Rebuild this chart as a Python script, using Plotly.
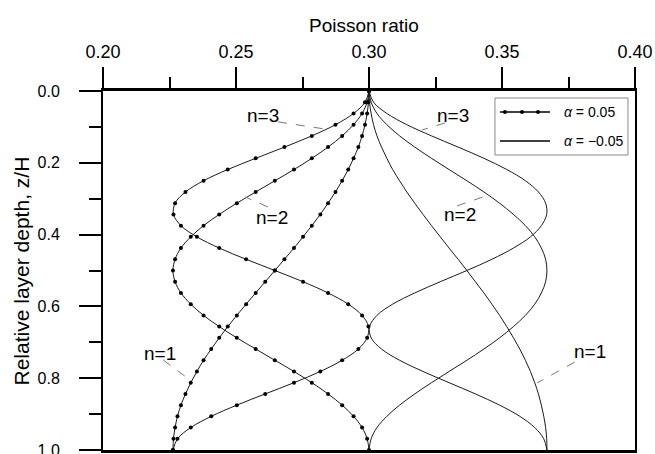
import plotly.graph_objects as go

# Relative depth z/H of the computed points
depth = [0.0, 0.03125, 0.0625, 0.09375, 0.125, 0.15625, 0.1875, 0.21875, 0.25,
         0.28125, 0.3125, 0.34375, 0.375, 0.40625, 0.4375, 0.46875, 0.5,
         0.53125, 0.5625, 0.59375, 0.625, 0.65625, 0.6875, 0.71875, 0.75,
         0.78125, 0.8125, 0.84375, 0.875, 0.90625, 0.9375, 0.96875, 1.0]

# Poisson ratio profiles, alpha = 0.05
nu_pos_n1 = [0.3000, 0.2998, 0.2993, 0.2985, 0.2974, 0.2960, 0.2942, 0.2922, 0.2899,
             0.2874, 0.2846, 0.2817, 0.2785, 0.2752, 0.2718, 0.2682, 0.2646, 0.2610,
             0.2574, 0.2538, 0.2503, 0.2469, 0.2437, 0.2407, 0.2378, 0.2353, 0.2330,
             0.2310, 0.2293, 0.2280, 0.2271, 0.2265, 0.2263]
nu_pos_n2 = [0.3000, 0.2993, 0.2974, 0.2942, 0.2899, 0.2846, 0.2785, 0.2718, 0.2646,
             0.2574, 0.2503, 0.2437, 0.2378, 0.2330, 0.2293, 0.2271, 0.2263, 0.2271,
             0.2293, 0.2330, 0.2378, 0.2437, 0.2503, 0.2574, 0.2646, 0.2718, 0.2785,
             0.2846, 0.2899, 0.2942, 0.2974, 0.2993, 0.3000]
nu_pos_n3 = [0.3000, 0.2985, 0.2942, 0.2874, 0.2785, 0.2682, 0.2574, 0.2469, 0.2378,
             0.2310, 0.2271, 0.2265, 0.2293, 0.2353, 0.2437, 0.2538, 0.2646, 0.2752,
             0.2846, 0.2922, 0.2974, 0.2998, 0.2993, 0.2960, 0.2899, 0.2817, 0.2718,
             0.2610, 0.2503, 0.2407, 0.2330, 0.2280, 0.2263]

# Poisson ratio profiles, alpha = -0.05
nu_neg_n1 = [0.3000, 0.3002, 0.3008, 0.3017, 0.3030, 0.3047, 0.3067, 0.3089, 0.3115,
             0.3142, 0.3172, 0.3203, 0.3235, 0.3268, 0.3301, 0.3335, 0.3368, 0.3400,
             0.3432, 0.3462, 0.3491, 0.3518, 0.3543, 0.3567, 0.3588, 0.3607, 0.3623,
             0.3637, 0.3648, 0.3657, 0.3664, 0.3668, 0.3669]
nu_neg_n2 = [0.3000, 0.3008, 0.3030, 0.3067, 0.3115, 0.3172, 0.3235, 0.3301, 0.3368,
             0.3432, 0.3491, 0.3543, 0.3588, 0.3623, 0.3648, 0.3664, 0.3669, 0.3664,
             0.3648, 0.3623, 0.3588, 0.3543, 0.3491, 0.3432, 0.3368, 0.3301, 0.3235,
             0.3172, 0.3115, 0.3067, 0.3030, 0.3008, 0.3000]
nu_neg_n3 = [0.3000, 0.3017, 0.3067, 0.3142, 0.3235, 0.3335, 0.3432, 0.3518, 0.3588,
             0.3637, 0.3664, 0.3668, 0.3648, 0.3607, 0.3543, 0.3462, 0.3368, 0.3268,
             0.3172, 0.3089, 0.3030, 0.3002, 0.3008, 0.3047, 0.3115, 0.3203, 0.3301,
             0.3400, 0.3491, 0.3567, 0.3623, 0.3657, 0.3669]

x_ticks = [0.20, 0.25, 0.30, 0.35, 0.40]
x_tick_labels = ["0.20", "0.25", "0.30", "0.35", "0.40"]
y_ticks = [0.0, 0.2, 0.4, 0.6, 0.8, 1.0]
y_tick_labels = ["0.0", "0.2", "0.4", "0.6", "0.8", "1.0"]

# Curve labels: text, label position, leader line (from, to)
curve_labels = [
    ("n=3", (0.2602, 0.067), (0.2658, 0.086), (0.2835, 0.106)),
    ("n=2", (0.2635, 0.351), (0.2620, 0.323), (0.2534, 0.295)),
    ("n=1", (0.2214, 0.730), (0.2226, 0.749), (0.2327, 0.805)),
    ("n=3", (0.3316, 0.067), (0.3286, 0.089), (0.3199, 0.1086)),
    ("n=2", (0.3342, 0.345), (0.3331, 0.320), (0.3429, 0.295)),
    ("n=1", (0.3831, 0.727), (0.3774, 0.755), (0.3632, 0.813)),
]

FONT = "Liberation Sans, Arial, Helvetica, sans-serif"
INK = "#1a1a1a"

fig = go.Figure()

for vals in (nu_pos_n1, nu_pos_n2, nu_pos_n3):
    fig.add_trace(go.Scatter(
        x=vals, y=depth, mode="lines+markers",
        line=dict(color=INK, width=1, shape="spline", smoothing=1.0),
        marker=dict(size=4, color="black"),
        showlegend=False, hoverinfo="skip"))

for vals in (nu_neg_n1, nu_neg_n2, nu_neg_n3):
    fig.add_trace(go.Scatter(
        x=vals, y=depth, mode="lines",
        line=dict(color=INK, width=1, shape="spline", smoothing=1.0),
        showlegend=False, hoverinfo="skip"))

annotations = []
shapes = []
for text, (tx, ty), (lx0, ly0), (lx1, ly1) in curve_labels:
    annotations.append(dict(x=tx, y=ty, xref="x", yref="y", text=text,
                            xanchor="center", yanchor="middle", showarrow=False,
                            font=dict(size=19, color="black", family=FONT)))
    shapes.append(dict(type="line", xref="x", yref="y", x0=lx0, y0=ly0, x1=lx1, y1=ly1,
                       line=dict(color="#777777", width=1, dash="dash")))

# Axis titles
annotations.append(dict(x=0.49, y=1.1838, xref="paper", yref="paper",
                        xanchor="center", yanchor="middle",
                        text="Poisson ratio", showarrow=False,
                        font=dict(size=19, color="black", family=FONT)))
annotations.append(dict(x=-0.1523, y=0.5, xref="paper", yref="paper",
                        xanchor="center", yanchor="middle",
                        text="Relative layer depth, z/H", textangle=-90, showarrow=False,
                        font=dict(size=21, color="black", family=FONT)))

# Legend box
shapes.append(dict(type="rect", xref="paper", yref="paper", x0=0.7368, x1=0.9868,
                   y0=0.8217, y1=0.9805, line=dict(color="#8a8a8a", width=1),
                   fillcolor="white", layer="above"))
for ly in (0.9415, 0.8607):
    shapes.append(dict(type="line", xref="paper", yref="paper", x0=0.7462, x1=0.8402,
                       y0=ly, y1=ly, line=dict(color="black", width=1.5), layer="above"))
for lx in (0.7556, 0.7876, 0.8177):
    shapes.append(dict(type="circle", xref="paper", yref="paper", xsizemode="pixel",
                       ysizemode="pixel", xanchor=lx, yanchor=0.9415,
                       x0=-2, x1=2, y0=-2, y1=2, fillcolor="black",
                       line=dict(color="black", width=0), layer="above"))
annotations.append(dict(x=0.8628, y=0.9415, xref="paper", yref="paper",
                        xanchor="left", yanchor="middle",
                        text="<i>α</i> = 0.05", showarrow=False,
                        font=dict(size=14, color="black", family=FONT)))
annotations.append(dict(x=0.8628, y=0.8607, xref="paper", yref="paper",
                        xanchor="left", yanchor="middle",
                        text="<i>α</i> = −0.05", showarrow=False,
                        font=dict(size=14, color="black", family=FONT)))

fig.update_layout(
    template="none",
    width=655, height=454,
    margin=dict(l=103, r=20, t=91, b=4, autoexpand=False),
    paper_bgcolor="white", plot_bgcolor="white",
    font=dict(family=FONT, color="black"),
    showlegend=False,
    annotations=annotations, shapes=shapes,
    xaxis=dict(side="top", range=[0.2, 0.4], tickvals=x_ticks, ticktext=x_tick_labels,
               automargin=False,
               ticks="outside", ticklen=21, tickwidth=2, tickcolor="black",
               showline=True, linecolor="black", linewidth=3, mirror=True,
               showgrid=False, zeroline=False, tickfont=dict(size=18),
               ticklabelstandoff=2,
               minor=dict(ticks="outside", ticklen=11, tickwidth=2, tickcolor="black",
                          tick0=0.2, dtick=0.025, showgrid=False)),
    yaxis=dict(range=[1, 0], tickvals=y_ticks, ticktext=y_tick_labels,
               automargin=False,
               ticks="outside", ticklen=22, tickwidth=2, tickcolor="black",
               showline=True, linecolor="black", linewidth=2, mirror=True,
               showgrid=False, zeroline=False, tickfont=dict(size=16),
               ticklabelstandoff=16, ticklabeloverflow="allow",
               minor=dict(ticks="outside", ticklen=12, tickwidth=2, tickcolor="black",
                          tick0=0, dtick=0.1, showgrid=False)),
)

fig.write_html("out.html")
